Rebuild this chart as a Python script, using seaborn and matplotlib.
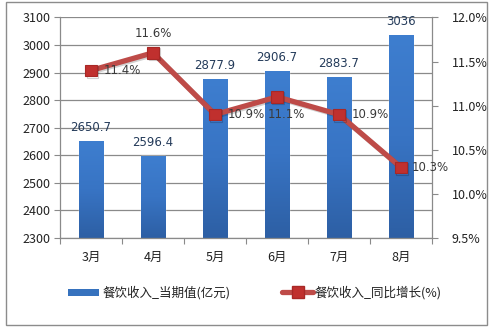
import numpy as np
import pandas as pd
import matplotlib
matplotlib.use("Agg")
import matplotlib.pyplot as plt
import matplotlib.patheffects as pe
from matplotlib.patches import Rectangle, Patch
from matplotlib.lines import Line2D
from matplotlib.colors import LinearSegmentedColormap
import seaborn as sns

months = ["3月", "4月", "5月", "6月", "7月", "8月"]
revenue = [2650.7, 2596.4, 2877.9, 2906.7, 2883.7, 3036]
growth = [11.4, 11.6, 10.9, 11.1, 10.9, 10.3]
revenue_labels = ["2650.7", "2596.4", "2877.9", "2906.7", "2883.7", "3036"]
bar_name = "餐饮收入_当期值(亿元)"
line_name = "餐饮收入_同比增长(%)"

sns.set_style("white")
plt.rcParams["font.family"] = ["Noto Sans CJK SC", "DejaVu Sans"]

df = pd.DataFrame({"month": months, "revenue": revenue, "growth": growth})

fig = plt.figure(figsize=(4.94, 3.32), dpi=100)
ax = fig.add_axes([0.1215, 0.2831, 0.7530, 0.6642])

bar_color = "#3672BE"
sns.barplot(data=df, x="month", y="revenue", color=bar_color, width=0.4,
            saturation=1, ax=ax, zorder=2)
ax.set_ylim(2300, 3100)
ax.set_xlim(-0.5, 5.5)

# vertical gradient fill inside every bar
grad = LinearSegmentedColormap.from_list("bar", ["#2D5FA4", "#3874C4", "#3E7ECF"])
gimg = np.linspace(0, 1, 256).reshape(-1, 1)
for p in ax.patches:
    x0, y0 = p.get_x(), p.get_y()
    w, h = p.get_width(), p.get_height()
    im = ax.imshow(gimg, cmap=grad, origin="lower", aspect="auto",
                   extent=[x0, x0 + w, ax.get_ylim()[0], y0 + h], zorder=2.1)
    im.set_clip_path(p)
ax.set_xlim(-0.5, 5.5)
ax.set_ylim(2300, 3100)

for i, (v, t) in enumerate(zip(revenue, revenue_labels)):
    ax.annotate(t, (i, v), xytext=(0, 5), textcoords="offset points",
                ha="center", va="bottom", fontsize=8.5, color="#243B5A",
                family=["DejaVu Sans"], zorder=5)

ax.set_yticks(np.arange(2300, 3101, 100))
ax.yaxis.grid(True, color="#8A8A8A", linewidth=0.9)
ax.set_axisbelow(True)
ax.set_xlabel("")
ax.set_ylabel("")
ax.tick_params(axis="y", labelsize=9, colors="#222222", length=4, width=0.8,
               color="#8A8A8A", direction="out", left=True, pad=3)
ax.tick_params(axis="x", which="major", labelsize=9, colors="#222222", length=0, pad=9)
ax.set_xticks(np.arange(-0.5, 6.0, 1.0), minor=True)
ax.tick_params(axis="x", which="minor", length=4, width=0.8, color="#8A8A8A",
               direction="out", bottom=True)
for s in ["left", "bottom", "right"]:
    ax.spines[s].set_color("#8A8A8A")
    ax.spines[s].set_linewidth(0.9)
ax.spines["top"].set_visible(False)

ax2 = ax.twinx()
line_color = "#BE4B48"
sns.lineplot(data=df, x="month", y="growth", ax=ax2, color=line_color,
             linewidth=3.8, marker="s", markersize=8.5,
             markerfacecolor="#C0302E", markeredgecolor="#A82826",
             markeredgewidth=0.8, zorder=4,
             path_effects=[pe.SimpleLineShadow(offset=(1.0, -1.0), shadow_color="black",
                                               alpha=0.18), pe.Normal()])
ax2.set_ylim(9.5, 12.0)
ax2.set_xlim(-0.5, 5.5)
ax2.set_yticks(np.arange(9.5, 12.01, 0.5))
ax2.set_yticklabels([f"{v:.1f}%" for v in np.arange(9.5, 12.01, 0.5)])
ax2.set_ylabel("")
ax2.set_xlabel("")
ax2.tick_params(axis="y", labelsize=9, colors="#222222", length=4, width=0.8,
                color="#8A8A8A", direction="out", right=True, pad=10)
for s in ["left", "bottom", "right", "top"]:
    ax2.spines[s].set_visible(False)

label_offsets = [(9, 0, "left", "center"), (0, 9, "center", "bottom"),
                 (9, 0, "left", "center"), (7, -8, "center", "top"),
                 (9, 0, "left", "center"), (8, 0, "left", "center")]
for i, (g, (dx, dy, ha, va)) in enumerate(zip(growth, label_offsets)):
    ax2.annotate(f"{g:.1f}%", (i, g), xytext=(dx, dy), textcoords="offset points",
                 ha=ha, va=va, fontsize=8.5, color="#3A3A3A",
                 family=["DejaVu Sans"], zorder=6)

h1 = Patch(facecolor=bar_color, edgecolor="none")
h2 = Line2D([], [], color=line_color, linewidth=3.8, marker="s", markersize=8,
            markerfacecolor="#C0302E", markeredgecolor="#A82826")
fig.legend([h1], [bar_name], loc="center left", bbox_to_anchor=(0.115, 0.118),
           frameon=False, fontsize=9, handlelength=2.5, handleheight=0.5,
           handletextpad=0.3, labelcolor="#222222")
fig.legend([h2], [line_name], loc="center left", bbox_to_anchor=(0.548, 0.118),
           frameon=False, fontsize=9, handlelength=2.5, handletextpad=0.1,
           labelcolor="#222222")

# chart frame
fig.patches.append(Rectangle((6 / 494, 1 - 325 / 332), 481 / 494, 323 / 332,
                             transform=fig.transFigure, fill=False,
                             edgecolor="#8C8C8C", linewidth=1.0))

fig.savefig("out.png", dpi=100)
